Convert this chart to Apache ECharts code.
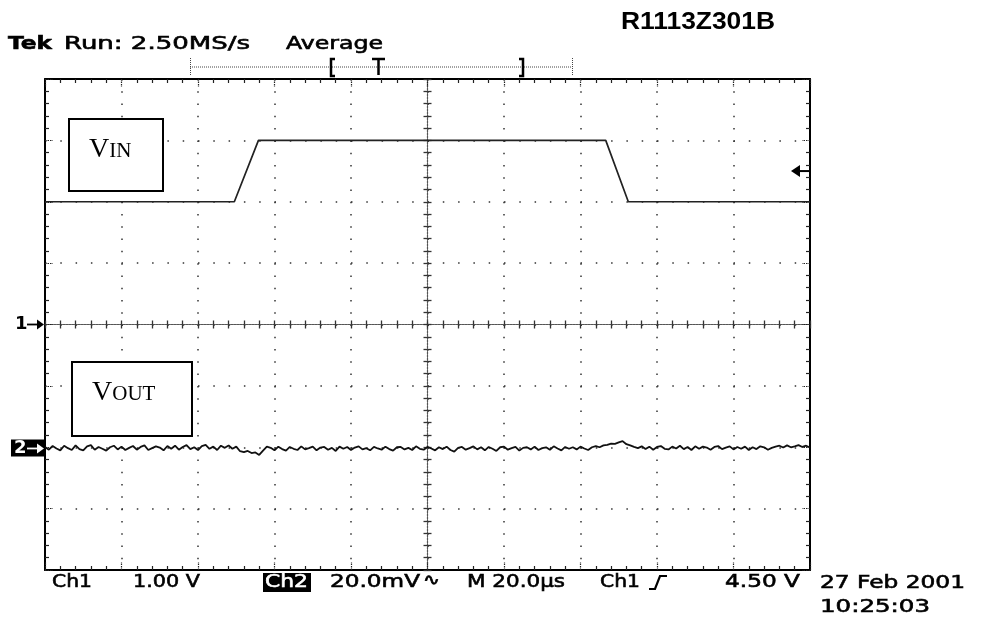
<!DOCTYPE html>
<html>
<head>
<meta charset="utf-8">
<script src="https://cdn.jsdelivr.net/npm/echarts@6/dist/echarts.min.js"></script>
<style>
  html, body { margin: 0; padding: 0; background: #ffffff; }
  #scope { width: 997px; height: 617px; }
</style>
</head>
<body>
<div id="scope"></div>
<script>
// ---- Screen scales: 10 horizontal x 8 vertical divisions ----
const timeRangeUs = [-100, 100];      // 20.0 µs/div
const timeDivUs = 20;
const ch1RangeV = [-4, 4];            // 1.00 V/div, ground at centre
const ch1DivV = 1;
const ch2RangeMv = [-39.6, 120.4];    // 20.0 mV/div, ground two divisions below centre

// ---- Channel 1: VIN step (volts) ----
const vinTimesUs = [-100, -50.5, -44.2, 46.6, 52.5, 100];
const vinVolts   = [2.0, 2.0, 3.0, 3.0, 2.0, 2.0];

// ---- Channel 2: VOUT ripple (mV), one sample per µs from -100 µs ----
const voutStartUs = -100;
const voutStepUs = 1;
const voutMilliVolts = [
  0.5,-0.4,0.8,0.0,-0.6,0.9,0.1,-0.5,1.0,-0.2,
  -0.6,0.7,1.1,-0.4,0.5,-0.1,-0.7,0.4,0.9,-0.3,
  0.6,-0.5,0.2,0.8,-0.4,0.5,1.0,-0.5,0.1,0.7,
  0.3,-0.6,0.8,-0.1,0.9,-0.4,0.5,1.1,-0.2,0.4,
  -0.5,0.8,1.2,-0.1,0.6,-0.5,0.9,0.2,1.0,-0.1,
  0.6,-0.9,-1.2,-0.8,-1.5,-1.3,-2.1,-0.7,0.6,
  0.2,-0.6,0.6,-0.2,-0.7,0.5,-0.1,-0.5,0.7,-0.3,
  0.1,0.6,-0.6,0.3,0.5,-0.4,0.2,-0.8,0.6,-0.1,
  0.5,-0.5,0.3,0.7,-0.3,0.1,-0.6,0.5,0.0,-0.4,
  0.6,-0.2,-0.7,0.4,0.5,-0.3,0.2,-0.5,0.7,-0.1,
  -0.4,0.5,0.0,-0.6,0.4,-0.2,0.6,-0.5,-1.0,0.2,
  0.5,-0.4,0.1,0.7,-0.3,0.4,-0.6,0.5,-0.1,-0.8,
  0.4,0.6,-0.4,0.1,0.5,-0.7,0.2,0.4,-0.3,0.6,
  -0.5,0.1,0.4,-0.4,0.7,0.0,-0.6,0.5,-0.1,0.4,
  -0.3,0.6,0.0,-0.5,0.4,0.8,0.4,
  1.0,1.2,1.6,1.5,2.0,2.4,1.4,1.0,0.5,
  0.1,0.7,-0.2,0.6,-0.4,0.5,0.8,-0.1,-0.3,0.6,
  0.0,0.9,-0.2,0.5,-0.5,0.7,-0.1,0.6,0.3,-0.4,
  0.5,0.8,-0.2,0.3,0.7,-0.3,0.5,-0.1,0.6,-0.5,
  0.4,-0.2,0.7,0.4,-0.4,0.2,0.6,0.9,0.3,1.0,
  0.4,0.7,1.1,0.5,0.9,0.3
];

// Trigger level indicator on Ch1 (screen volts)
const triggerArrowV = 2.5;

// ---- Readout texts ----
const headerTexts = ['Tek', 'Run: 2.50MS/s', 'Average'];
const titleText = 'R1113Z301B';
const readoutTexts = ['Ch1', '1.00 V', 'Ch2', '20.0mV', '\u223F', 'M 20.0\u00B5s', 'Ch1', '4.50 V'];
const dateTexts = ['27 Feb 2001', '10:25:03'];

const vinData = vinTimesUs.map((t, i) => [t, vinVolts[i]]);
const voutData = voutMilliVolts.map((v, i) => [voutStartUs + i * voutStepUs, v]);

const chart = echarts.init(document.getElementById('scope'), null, { renderer: 'canvas' });

const GRID = { left: 45, top: 79, width: 765, height: 491 };
const dotStepX = GRID.width / 50;   // 1/5 division
const dotStepY = GRID.height / 40;

function edgeAxis(pos, withSplit, isX) {
  return {
    type: 'value',
    position: pos,
    min: isX ? timeRangeUs[0] : ch1RangeV[0],
    max: isX ? timeRangeUs[1] : ch1RangeV[1],
    interval: isX ? timeDivUs : ch1DivV,
    axisLine: { show: true, onZero: false, lineStyle: { color: '#000', width: 2 } },
    axisTick: { show: true, inside: true, length: 8, lineStyle: { color: '#222', width: 1.2, type: [1.5, 1] } },
    minorTick: { show: true, splitNumber: 5, length: 4, lineStyle: { color: '#222', width: 1.2 } },
    splitLine: { show: withSplit, lineStyle: { color: '#333', width: 1.5, type: [1.5, (isX ? dotStepY : dotStepX) - 1.5] } },
    axisLabel: { show: false }
  };
}

function centreAxis(pos, inside, isX, showLine) {
  return {
    type: 'value',
    position: pos,
    min: isX ? timeRangeUs[0] : ch1RangeV[0],
    max: isX ? timeRangeUs[1] : ch1RangeV[1],
    interval: isX ? timeDivUs : ch1DivV,
    axisLine: { show: showLine, onZero: true, onZeroAxisIndex: 0, lineStyle: { color: '#555', width: 1.2, type: [2, 1] } },
    axisTick: { show: true, inside: inside, length: 4, lineStyle: { color: '#333', width: 1.3 } },
    minorTick: { show: true, splitNumber: 5, length: 4, lineStyle: { color: '#333', width: 1.3 } },
    splitLine: { show: false },
    axisLabel: { show: false }
  };
}

chart.setOption({
  animation: false,
  backgroundColor: '#ffffff',
  grid: { left: GRID.left, top: GRID.top, width: GRID.width, height: GRID.height, containLabel: false },
  xAxis: [
    edgeAxis('bottom', true, true),
    edgeAxis('top', false, true),
    centreAxis('bottom', true, true, true),
    centreAxis('bottom', false, true, false)
  ],
  yAxis: [
    edgeAxis('left', true, false),
    edgeAxis('right', false, false),
    centreAxis('left', true, false, true),
    centreAxis('left', false, false, false),
    { type: 'value', show: false, min: ch2RangeMv[0], max: ch2RangeMv[1] }
  ],
  series: [
    {
      name: 'VIN', type: 'line', xAxisIndex: 0, yAxisIndex: 0, data: vinData,
      showSymbol: false, symbol: 'none', z: 5,
      lineStyle: { color: '#222', width: 1.7 }
    },
    {
      name: 'VOUT', type: 'line', xAxisIndex: 0, yAxisIndex: 4, data: voutData,
      showSymbol: false, symbol: 'none', z: 5,
      lineStyle: { color: '#111', width: 1.8 }
    }
  ]
});

// ---- Text helpers: stretch readout text horizontally to the scope font's width ----
const measureCtx = document.createElement('canvas').getContext('2d');
function textWidth(text, font) { measureCtx.font = font; return measureCtx.measureText(text).width; }
function fitText(text, x, yMid, width, font, fill) {
  const col = fill || '#000';
  return {
    type: 'text', x: x, y: yMid, scaleX: width / textWidth(text, font), z: 20,
    style: { text: text, font: font, fill: col, stroke: col, lineWidth: 0.6, verticalAlign: 'middle', align: 'left' }
  };
}
function plainText(text, x, yMid, font, fill, align) {
  return {
    type: 'text', x: x, y: yMid, z: 20,
    style: { text: text, font: font, fill: fill || '#000', verticalAlign: 'middle', align: align || 'left' }
  };
}
function smallCaps(big, small, x, yBottom, bigSize, smallSize) {
  const fam = '"Liberation Serif", "Times New Roman", serif';
  const bigFont = bigSize + 'px ' + fam;
  const smallFont = smallSize + 'px ' + fam;
  const w = textWidth(big, bigFont);
  return [
    { type: 'text', x: x, y: yBottom, z: 20, style: { text: big, font: bigFont, fill: '#000', verticalAlign: 'bottom' } },
    { type: 'text', x: x + w, y: yBottom - (bigSize - smallSize) * 0.22, z: 20, style: { text: small, font: smallFont, fill: '#000', verticalAlign: 'bottom' } }
  ];
}

const tekFont = '18px "DejaVu Sans", sans-serif';
const tekBold = 'bold 18px "DejaVu Sans", sans-serif';

const yCh1Zero = chart.convertToPixel({ yAxisIndex: 0 }, 0);
const yCh2Zero = chart.convertToPixel({ yAxisIndex: 4 }, 0);
const yTrig = chart.convertToPixel({ yAxisIndex: 0 }, triggerArrowV);
const xRight = chart.convertToPixel({ xAxisIndex: 0 }, timeRangeUs[1]);
const xLeft = chart.convertToPixel({ xAxisIndex: 0 }, timeRangeUs[0]);

const g = [];

// Header
g.push(fitText(headerTexts[0], 8, 44, 44, tekBold));
g.push(fitText(headerTexts[1], 64, 44, 186, tekFont));
g.push(fitText(headerTexts[2], 286, 44, 97, tekFont));
g.push({
  type: 'text', x: 621, y: 22.5, scaleX: 154 / textWidth(titleText, 'bold 24px "Liberation Sans", Arial, sans-serif'), z: 20,
  style: { text: titleText, font: 'bold 24px "Liberation Sans", Arial, sans-serif', fill: '#000', verticalAlign: 'middle' }
});

// Record window bar
const barY = 67;
g.push({ type: 'line', z: 15, shape: { x1: 190, y1: barY, x2: 572, y2: barY }, style: { stroke: '#444', lineWidth: 1, lineDash: [1, 1] } });
g.push({ type: 'line', z: 15, shape: { x1: 190.5, y1: 58, x2: 190.5, y2: 76 }, style: { stroke: '#444', lineWidth: 1, lineDash: [1, 1] } });
g.push({ type: 'line', z: 15, shape: { x1: 572.5, y1: 58, x2: 572.5, y2: 76 }, style: { stroke: '#444', lineWidth: 1, lineDash: [1, 1] } });
g.push({ type: 'polyline', z: 16, shape: { points: [[335, 59], [331, 59], [331, 76], [335, 76]] }, style: { stroke: '#000', lineWidth: 2.5, fill: null } });
g.push({ type: 'polyline', z: 16, shape: { points: [[519, 59], [523, 59], [523, 76], [519, 76]] }, style: { stroke: '#000', lineWidth: 2.5, fill: null } });
g.push({ type: 'line', z: 16, shape: { x1: 372, y1: 59, x2: 385, y2: 59 }, style: { stroke: '#000', lineWidth: 2.5 } });
g.push({ type: 'line', z: 16, shape: { x1: 378.5, y1: 59, x2: 378.5, y2: 75 }, style: { stroke: '#000', lineWidth: 2.5 } });

// Bottom readout
const rowY = 582.5;
g.push(fitText(readoutTexts[0], 52, rowY, 40, tekFont));
g.push(fitText(readoutTexts[1], 133, rowY, 67, tekFont));
g.push({ type: 'rect', z: 18, shape: { x: 263, y: 573, width: 48, height: 19 }, style: { fill: '#000' } });
g.push(fitText(readoutTexts[2], 265, rowY, 43, tekFont, '#fff'));
g.push(fitText(readoutTexts[3], 330, rowY, 90, tekFont));
g.push(fitText(readoutTexts[4], 423, rowY - 2, 17, '16px "DejaVu Sans", sans-serif'));
g.push(fitText(readoutTexts[5], 467, rowY, 98, tekFont));
g.push(fitText(readoutTexts[6], 600, rowY, 40, tekFont));
g.push({ type: 'polyline', z: 16, shape: { points: [[649, 589], [655, 589], [660, 576], [667, 576]] }, style: { stroke: '#000', lineWidth: 2.2, fill: null } });
g.push(fitText(readoutTexts[7], 725, rowY, 75, tekFont));
g.push(fitText(dateTexts[0], 820, 583.5, 145, tekFont));
g.push(fitText(dateTexts[1], 820, 607.5, 110, tekFont));

// Channel ground markers
g.push(plainText('1', 15, yCh1Zero, tekBold));
g.push({ type: 'line', z: 16, shape: { x1: 27, y1: yCh1Zero, x2: 38, y2: yCh1Zero }, style: { stroke: '#000', lineWidth: 1.8 } });
g.push({ type: 'polygon', z: 16, shape: { points: [[xLeft - 1, yCh1Zero], [xLeft - 8, yCh1Zero - 5], [xLeft - 8, yCh1Zero + 5]] }, style: { fill: '#000' } });

g.push({ type: 'rect', z: 17, shape: { x: 11, y: yCh2Zero - 9, width: 34, height: 17 }, style: { fill: '#000' } });
g.push(plainText('2', 14, yCh2Zero, tekBold, '#fff'));
g.push({ type: 'line', z: 18, shape: { x1: 27, y1: yCh2Zero, x2: 38, y2: yCh2Zero }, style: { stroke: '#fff', lineWidth: 1.8 } });
g.push({ type: 'polygon', z: 18, shape: { points: [[44, yCh2Zero], [37, yCh2Zero - 5], [37, yCh2Zero + 5]] }, style: { fill: '#fff' } });

// Trigger level arrow on the right edge
g.push({ type: 'line', z: 16, shape: { x1: 798, y1: yTrig, x2: xRight, y2: yTrig }, style: { stroke: '#000', lineWidth: 2 } });
g.push({ type: 'polygon', z: 16, shape: { points: [[791, yTrig], [800, yTrig - 6], [800, yTrig + 6]] }, style: { fill: '#000' } });

// Trace labels
g.push({ type: 'rect', z: 12, shape: { x: 69, y: 119, width: 94, height: 72 }, style: { fill: '#fff', stroke: '#000', lineWidth: 2 } });
g.push(...smallCaps('V', 'IN', 89, 164, 28, 21));
g.push({ type: 'rect', z: 12, shape: { x: 72, y: 362, width: 120, height: 74 }, style: { fill: '#fff', stroke: '#000', lineWidth: 2 } });
g.push(...smallCaps('V', 'OUT', 92, 407, 28, 21));

chart.setOption({ graphic: { elements: g } });
</script>
</body>
</html>
